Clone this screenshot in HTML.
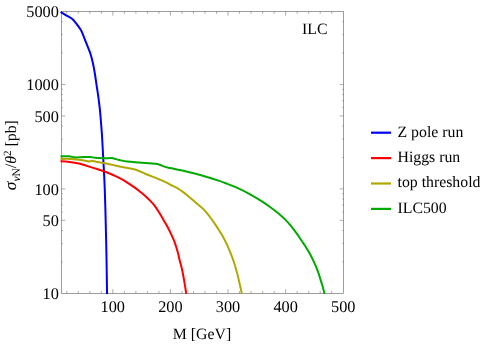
<!DOCTYPE html><html><head><meta charset="utf-8"><style>html,body{margin:0;padding:0;background:#fff}body{width:488px;height:344px;overflow:hidden;font-family:"Liberation Serif",serif}</style></head><body><svg width="488" height="344" viewBox="0 0 488 344" style="display:block;will-change:transform">
<rect width="488" height="344" fill="#fff"/>
<defs><clipPath id="c"><rect x="60.0" y="10.0" width="285.0" height="284.6"/></clipPath></defs>
<rect x="61.5" y="11.5" width="282.0" height="281.8" fill="none" stroke="#5c5c5c" stroke-width="0.6"/>
<path d="M66.77 293.30v-2.30M66.77 11.50v2.30M78.29 293.30v-2.30M78.29 11.50v2.30M89.81 293.30v-2.30M89.81 11.50v2.30M101.33 293.30v-2.30M101.33 11.50v2.30M112.85 293.30v-4.20M112.85 11.50v4.20M124.37 293.30v-2.30M124.37 11.50v2.30M135.89 293.30v-2.30M135.89 11.50v2.30M147.41 293.30v-2.30M147.41 11.50v2.30M158.93 293.30v-2.30M158.93 11.50v2.30M170.45 293.30v-4.20M170.45 11.50v4.20M181.97 293.30v-2.30M181.97 11.50v2.30M193.49 293.30v-2.30M193.49 11.50v2.30M205.01 293.30v-2.30M205.01 11.50v2.30M216.53 293.30v-2.30M216.53 11.50v2.30M228.05 293.30v-4.20M228.05 11.50v4.20M239.57 293.30v-2.30M239.57 11.50v2.30M251.09 293.30v-2.30M251.09 11.50v2.30M262.61 293.30v-2.30M262.61 11.50v2.30M274.13 293.30v-2.30M274.13 11.50v2.30M285.65 293.30v-4.20M285.65 11.50v4.20M297.17 293.30v-2.30M297.17 11.50v2.30M308.69 293.30v-2.30M308.69 11.50v2.30M320.21 293.30v-2.30M320.21 11.50v2.30M331.73 293.30v-2.30M331.73 11.50v2.30M61.50 261.87h1.30M343.50 261.87h-1.30M61.50 243.48h1.30M343.50 243.48h-1.30M61.50 230.44h1.30M343.50 230.44h-1.30M61.50 220.32h3.80M343.50 220.32h-3.80M61.50 212.05h1.30M343.50 212.05h-1.30M61.50 205.06h1.30M343.50 205.06h-1.30M61.50 199.01h1.30M343.50 199.01h-1.30M61.50 193.67h1.30M343.50 193.67h-1.30M61.50 188.89h3.80M343.50 188.89h-3.80M61.50 157.46h1.30M343.50 157.46h-1.30M61.50 139.07h1.30M343.50 139.07h-1.30M61.50 126.03h1.30M343.50 126.03h-1.30M61.50 115.91h3.80M343.50 115.91h-3.80M61.50 107.64h1.30M343.50 107.64h-1.30M61.50 100.65h1.30M343.50 100.65h-1.30M61.50 94.60h1.30M343.50 94.60h-1.30M61.50 89.26h1.30M343.50 89.26h-1.30M61.50 84.48h3.80M343.50 84.48h-3.80M61.50 53.05h1.30M343.50 53.05h-1.30M61.50 34.66h1.30M343.50 34.66h-1.30M61.50 21.62h1.30M343.50 21.62h-1.30" stroke="#5c5c5c" stroke-width="0.5" fill="none"/>
<g clip-path="url(#c)">
<path fill="none" stroke="#0000f5" stroke-width="2" stroke-linejoin="round" stroke-linecap="butt" d="M60.50 12.00C61.20 12.42 65.09 14.75 66.50 15.60C67.91 16.45 71.21 18.04 72.60 19.30C73.99 20.56 77.34 24.96 78.40 26.40C79.46 27.83 80.81 29.73 81.70 31.60C82.59 33.47 85.01 39.90 86.00 42.40C86.99 44.90 89.42 50.69 90.20 53.00C90.98 55.31 92.19 59.98 92.70 62.20C93.21 64.42 94.13 69.22 94.60 72.00C95.07 74.78 96.26 83.05 96.70 86.00C97.14 88.95 98.03 94.55 98.40 97.30C98.77 100.05 99.56 106.25 99.90 109.60C100.24 112.95 101.04 122.77 101.30 126.00C101.56 129.23 101.89 133.84 102.10 137.30C102.31 140.77 102.91 152.26 103.10 155.70C103.29 159.14 103.53 163.38 103.70 166.80C103.88 170.22 104.40 179.96 104.60 185.00C104.80 190.04 105.24 204.17 105.40 210.00C105.56 215.83 105.87 229.40 106.00 235.00C106.13 240.60 106.38 251.08 106.50 258.00C106.62 264.92 106.99 290.06 107.05 294.30"/>
<path fill="none" stroke="#ff0000" stroke-width="2" stroke-linejoin="round" stroke-linecap="butt" d="M60.50 161.20C61.32 161.23 63.57 161.23 65.40 161.40C67.23 161.57 69.45 161.90 71.50 162.20C73.55 162.50 75.45 162.68 77.70 163.20C79.95 163.72 82.13 164.43 85.00 165.30C87.87 166.17 92.02 167.48 94.90 168.40C97.78 169.32 99.85 169.95 102.30 170.80C104.75 171.65 107.48 172.67 109.60 173.50C111.72 174.33 113.08 174.90 115.00 175.80C116.92 176.70 119.05 177.77 121.10 178.90C123.15 180.03 125.25 181.32 127.30 182.60C129.35 183.88 131.70 185.43 133.40 186.60C135.10 187.77 136.00 188.43 137.50 189.60C139.00 190.77 140.35 191.80 142.40 193.60C144.45 195.40 147.75 198.35 149.80 200.40C151.85 202.45 153.07 203.75 154.70 205.90C156.33 208.05 158.07 210.83 159.60 213.30C161.13 215.77 162.70 218.67 163.90 220.70C165.10 222.73 165.63 223.35 166.80 225.50C167.97 227.65 169.60 230.82 170.90 233.60C172.20 236.38 173.47 239.12 174.60 242.20C175.73 245.28 176.88 249.18 177.70 252.10C178.52 255.02 178.88 257.25 179.50 259.70C180.12 262.15 180.88 264.70 181.40 266.80C181.92 268.90 182.10 269.75 182.60 272.30C183.10 274.85 183.78 278.52 184.40 282.10C185.02 285.68 185.98 291.85 186.30 293.80"/>
<path fill="none" stroke="#b0a800" stroke-width="2" stroke-linejoin="round" stroke-linecap="butt" d="M60.50 158.90C62.13 158.90 67.23 158.75 70.30 158.90C73.37 159.05 76.23 159.45 78.90 159.80C81.57 160.15 84.45 160.72 86.30 161.00C88.15 161.28 89.08 161.55 90.00 161.50C90.92 161.45 90.58 160.62 91.80 160.70C93.02 160.78 94.73 161.50 97.30 162.00C99.87 162.50 104.25 163.13 107.20 163.70C110.15 164.27 112.07 164.75 115.00 165.40C117.93 166.05 121.32 166.88 124.80 167.60C128.28 168.32 132.42 168.63 135.90 169.70C139.38 170.77 142.02 172.47 145.70 174.00C149.38 175.53 154.52 177.47 158.00 178.90C161.48 180.33 164.60 181.67 166.60 182.60C168.60 183.53 168.20 183.57 170.00 184.50C171.80 185.43 174.93 186.72 177.40 188.20C179.87 189.68 183.23 192.27 184.80 193.40C186.37 194.53 185.13 193.60 186.80 195.00C188.47 196.40 192.03 199.45 194.80 201.80C197.57 204.15 200.93 206.65 203.40 209.10C205.87 211.55 207.55 213.83 209.60 216.50C211.65 219.17 213.97 222.53 215.70 225.10C217.43 227.67 218.85 230.08 220.00 231.90C221.15 233.72 221.52 234.05 222.60 236.00C223.68 237.95 225.23 240.90 226.50 243.60C227.77 246.30 228.97 249.13 230.20 252.20C231.43 255.27 232.87 258.92 233.90 262.00C234.93 265.08 235.70 268.20 236.40 270.70C237.10 273.20 237.18 273.13 238.10 277.00C239.02 280.87 241.27 291.08 241.90 293.90"/>
<path fill="none" stroke="#00aa00" stroke-width="2" stroke-linejoin="round" stroke-linecap="butt" d="M60.50 156.30C61.93 156.30 66.85 156.13 69.10 156.30C71.35 156.47 72.17 157.13 74.00 157.30C75.83 157.47 77.43 157.37 80.10 157.30C82.77 157.23 87.53 156.82 90.00 156.90C92.47 156.98 92.65 157.58 94.90 157.80C97.15 158.02 100.63 158.15 103.50 158.20C106.37 158.25 110.18 157.98 112.10 158.10C114.02 158.22 113.80 158.58 115.00 158.90C116.20 159.22 117.25 159.55 119.30 160.00C121.35 160.45 123.92 161.17 127.30 161.60C130.68 162.03 134.78 162.23 139.60 162.60C144.42 162.97 152.10 163.13 156.20 163.80C160.30 164.47 161.90 165.90 164.20 166.60C166.50 167.30 166.98 167.35 170.00 168.00C173.02 168.65 178.20 169.58 182.30 170.50C186.40 171.42 190.50 172.42 194.60 173.50C198.70 174.58 202.80 175.77 206.90 177.00C211.00 178.23 216.18 179.90 219.20 180.90C222.22 181.90 221.98 181.83 225.00 183.00C228.02 184.17 233.20 186.05 237.30 187.90C241.40 189.75 245.50 191.85 249.60 194.10C253.70 196.35 258.22 199.05 261.90 201.40C265.58 203.75 269.03 206.27 271.70 208.20C274.37 210.13 275.72 211.18 277.90 213.00C280.08 214.82 282.63 216.95 284.80 219.10C286.97 221.25 288.87 223.43 290.90 225.90C292.93 228.37 295.15 231.33 297.00 233.90C298.85 236.47 300.67 239.32 302.00 241.30C303.33 243.28 303.72 243.75 305.00 245.80C306.28 247.85 308.20 250.87 309.70 253.60C311.20 256.33 312.67 259.33 314.00 262.20C315.33 265.07 316.62 267.90 317.70 270.80C318.78 273.70 319.65 276.90 320.50 279.60C321.35 282.30 322.13 284.60 322.80 287.00C323.47 289.40 324.22 292.83 324.50 294.00"/>
</g>
<g font-family="Liberation Serif, serif" font-size="15.8" fill="#000" text-rendering="geometricPrecision">
<text x="112.8" y="312.3" text-anchor="middle" font-size="16.3">100</text>
<text x="170.4" y="312.3" text-anchor="middle" font-size="16.3">200</text>
<text x="228.0" y="312.3" text-anchor="middle" font-size="16.3">300</text>
<text x="285.6" y="312.3" text-anchor="middle" font-size="16.3">400</text>
<text x="343.2" y="312.3" text-anchor="middle" font-size="16.3">500</text>
<text x="58.8" y="298.9" text-anchor="end" font-size="16.3">10</text>
<text x="58.8" y="225.9" text-anchor="end" font-size="16.3">50</text>
<text x="58.8" y="194.5" text-anchor="end" font-size="16.3">100</text>
<text x="58.8" y="121.5" text-anchor="end" font-size="16.3">500</text>
<text x="58.8" y="90.1" text-anchor="end" font-size="16.3">1000</text>
<text x="58.8" y="17.1" text-anchor="end" font-size="16.3">5000</text>
<text x="202" y="338.5" text-anchor="middle">M [GeV]</text>
<text x="302" y="34" >ILC</text>
<text x="397.5" y="137.0">Z pole run</text>
<text x="397.5" y="162.0">Higgs run</text>
<text x="397.5" y="187.0">top threshold</text>
<text x="397.5" y="213.0">ILC500</text>
<text transform="translate(16,155.2) rotate(-90)" text-anchor="middle"><tspan font-style="italic" font-size="17.5">σ</tspan><tspan font-size="11.5" dy="4"><tspan font-style="italic">ν</tspan>N</tspan><tspan dy="-4">/</tspan><tspan font-style="italic">θ</tspan><tspan font-size="11" dy="-5.5">2</tspan><tspan dy="5.5"> [pb]</tspan></text>
</g>
<line x1="371" x2="391" y1="132.7" y2="132.7" stroke="#0000f5" stroke-width="2.2"/>
<line x1="371" x2="391" y1="158.1" y2="158.1" stroke="#ff0000" stroke-width="2.2"/>
<line x1="371" x2="391" y1="183.5" y2="183.5" stroke="#b0a800" stroke-width="2.2"/>
<line x1="371" x2="391" y1="208.9" y2="208.9" stroke="#00aa00" stroke-width="2.2"/>
</svg></body></html>
